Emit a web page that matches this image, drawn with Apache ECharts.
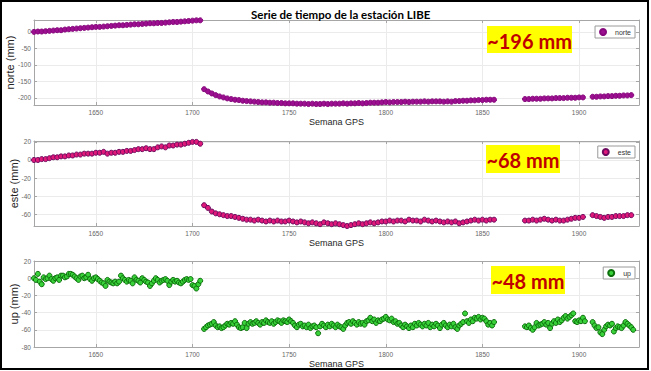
<!DOCTYPE html>
<html>
<head>
<meta charset="utf-8">
<script src="https://cdn.jsdelivr.net/npm/echarts@6/dist/echarts.min.js"></script>
<style>
  html, body { margin: 0; padding: 0; background: #fff; }
  #chart { width: 651px; height: 371px; }
</style>
</head>
<body>
<div id="chart"></div>
<script>
// GPS weeks sampled every 2 weeks (norte, este)
const weeks2 = [
  1618, 1620, 1622, 1624, 1626, 1628, 1630, 1632, 1634, 1636,
  1638, 1640, 1642, 1644, 1646, 1648, 1650, 1652, 1654, 1656,
  1658, 1660, 1662, 1664, 1666, 1668, 1670, 1672, 1674, 1676,
  1678, 1680, 1682, 1684, 1686, 1688, 1690, 1692, 1694, 1696,
  1698, 1700, 1702, 1704,
  1706, 1708, 1710, 1712, 1714, 1716, 1718, 1720, 1722, 1724,
  1726, 1728, 1730, 1732, 1734, 1736, 1738, 1740, 1742, 1744,
  1746, 1748, 1750, 1752, 1754, 1756, 1758, 1760, 1762, 1764,
  1766, 1768, 1770, 1772, 1774, 1776, 1778, 1780, 1782, 1784,
  1786, 1788, 1790, 1792, 1794, 1796, 1798, 1800, 1802, 1804,
  1806, 1808, 1810, 1812, 1814, 1816, 1818, 1820, 1822, 1824,
  1826, 1828, 1830, 1832, 1834, 1836, 1838, 1840, 1842, 1844,
  1846, 1848, 1850, 1852, 1854, 1856,
  1872, 1874, 1876, 1878, 1880, 1882, 1884, 1886, 1888, 1890,
  1892, 1894, 1896, 1898, 1900, 1902,
  1907, 1909, 1911, 1913, 1915, 1917, 1919, 1921, 1923, 1925, 1927,
];

const norte = [
  0, 1, 1, 2, 3, 4, 5, 5, 7, 8,
  9, 10, 11, 12, 13, 14, 15, 15, 16, 17,
  18, 19, 20, 20, 21, 22, 23, 23, 24, 25,
  26, 26, 27, 27, 28, 29, 30, 30, 31, 32,
  33, 34, 35, 35,
  -174, -181, -187, -192, -196, -199, -202, -204, -206, -207,
  -209, -210, -211, -212, -213, -214, -214, -215, -215, -216,
  -216, -217, -217, -217, -218, -218, -218, -219, -218, -219,
  -219, -218, -219, -218, -218, -218, -217, -218, -217, -217,
  -216, -217, -216, -215, -215, -215, -214, -213, -214, -213,
  -213, -213, -212, -213, -212, -212, -212, -211, -212, -211,
  -211, -211, -212, -211, -212, -210, -210, -209, -209, -208,
  -208, -207, -207, -206, -206, -206,
  -204, -204, -203, -203, -203, -202, -202, -202, -201, -201,
  -201, -200, -200, -200, -199, -199,
  -197, -197, -196, -196, -195, -195, -194, -194, -193, -193, -192,
];

const este = [
  0, 0, 1, 1, 2, 3, 3, 4, 4, 5,
  5, 6, 6, 7, 7, 7, 8, 8, 9, 7,
  8, 8, 9, 9, 10, 10, 11, 12, 12, 13,
  12, 12, 14, 15, 14, 16, 16, 17, 17, 18,
  19, 20, 20, 18,
  -50, -53, -57, -59, -60, -61, -62, -62, -63, -64,
  -65, -66, -66, -67, -66, -67, -68, -67, -68, -67,
  -68, -68, -67, -68, -69, -68, -69, -70, -69, -70,
  -71, -69, -70, -71, -70, -71, -72, -73, -72, -71,
  -70, -71, -70, -69, -70, -69, -68, -68, -67, -68,
  -67, -67, -68, -66, -67, -67, -68, -66, -67, -68,
  -67, -68, -69, -68, -69, -68, -70, -69, -68, -67,
  -66, -67, -66, -67, -66, -66,
  -67, -67, -66, -67, -66, -65, -66, -67, -66, -67,
  -67, -66, -65, -64, -64, -63,
  -61, -62, -63, -64, -63, -63, -62, -62, -62, -61, -61,
];

// GPS weeks, weekly (up)
const weeks1 = [
  1618, 1619, 1620, 1621, 1622, 1623, 1624, 1625, 1626, 1627,
  1628, 1629, 1630, 1631, 1632, 1633, 1634, 1635, 1636, 1637,
  1638, 1639, 1640, 1641, 1642, 1643, 1644, 1645, 1646, 1647,
  1648, 1649, 1650, 1651, 1652, 1653, 1654, 1655, 1656, 1657,
  1658, 1659, 1660, 1661, 1662, 1663, 1664, 1665, 1666, 1667,
  1668, 1669, 1670, 1671, 1672, 1673, 1674, 1675, 1676, 1677,
  1678, 1679, 1680, 1681, 1682, 1683, 1684, 1685, 1686, 1687,
  1688, 1689, 1690, 1691, 1692, 1693, 1694, 1695, 1696, 1697,
  1698, 1699, 1700, 1701, 1702, 1703, 1704,
  1706, 1707, 1708, 1709, 1710, 1711, 1712, 1713, 1714, 1715,
  1716, 1717, 1718, 1719, 1720, 1721, 1722, 1723, 1724, 1725,
  1726, 1727, 1728, 1729, 1730, 1731, 1732, 1733, 1734, 1735,
  1736, 1737, 1738, 1739, 1740, 1741, 1742, 1743, 1744, 1745,
  1746, 1747, 1748, 1749, 1750, 1751, 1752, 1753, 1754, 1755,
  1756, 1757, 1758, 1759, 1760, 1761, 1762, 1763, 1764, 1765,
  1766, 1767, 1768, 1769, 1770, 1771, 1772, 1773, 1774, 1775,
  1776, 1777, 1778, 1779, 1780, 1781, 1782, 1783, 1784, 1785,
  1786, 1787, 1788, 1789, 1790, 1791, 1792, 1793, 1794, 1795,
  1796, 1797, 1798, 1799, 1800, 1801, 1802, 1803, 1804, 1805,
  1806, 1807, 1808, 1809, 1810, 1811, 1812, 1813, 1814, 1815,
  1816, 1817, 1818, 1819, 1820, 1821, 1822, 1823, 1824, 1825,
  1826, 1827, 1828, 1829, 1830, 1831, 1832, 1833, 1834, 1835,
  1836, 1837, 1838, 1839, 1840, 1841, 1842, 1843, 1844, 1845,
  1846, 1847, 1848, 1849, 1850, 1851, 1852, 1853, 1854, 1855,
  1856,
  1872, 1873, 1874, 1875, 1876, 1877, 1878, 1879, 1880, 1881,
  1882, 1883, 1884, 1885, 1886, 1887, 1888, 1889, 1890, 1891,
  1892, 1893, 1894, 1895, 1896, 1897, 1898, 1899, 1900, 1901,
  1902, 1903,
  1907, 1908, 1909, 1910, 1911, 1912, 1913, 1914, 1915, 1916,
  1917, 1918, 1919, 1920, 1921, 1922, 1923, 1924, 1925, 1926,
  1927, 1928,
];

const up = [
  0, -2, 5, -4, -7, 1, -1, 0, 3, -1,
  -3, 0, 1, -2, 3, 3, 1, 2, 5, 5,
  4, 2, 0, -2, 2, 3, 0, 1, 4, -1,
  -3, 0, 1, -1, -3, -5, -6, -9, -2, -4,
  -5, -6, -4, -6, -4, 3, 0, -2, -4, -2,
  -3, -6, 1, -2, -3, -5, 0, -2, -4, -5,
  -9, -6, -3, 0, -2, -5, -3, -2, -1, -3,
  -8, -4, -2, -4, -3, -5, -6, -4, -2, -1,
  -2, -1, -8, -9, -12, -7, -3,
  -59, -57, -55, -54, -53, -51, -55, -57, -56, -58,
  -57, -55, -53, -54, -52, -53, -50, -54, -57, -58,
  -57, -52, -58, -53, -51, -53, -52, -50, -52, -54,
  -51, -52, -49, -51, -52, -50, -53, -51, -49, -50,
  -52, -49, -50, -51, -48, -50, -52, -55, -57, -54,
  -53, -56, -55, -57, -54, -58, -56, -55, -57, -64,
  -56, -53, -55, -57, -54, -56, -53, -55, -57, -54,
  -56, -57, -59, -55, -52, -51, -53, -50, -52, -54,
  -51, -53, -52, -54, -50, -49, -46, -50, -48, -52,
  -49, -50, -48, -47, -45, -48, -49, -47, -51, -50,
  -53, -52, -55, -57, -54, -56, -58, -55, -57, -53,
  -55, -52, -54, -56, -53, -55, -52, -57, -54, -56,
  -53, -55, -58, -54, -52, -55, -57, -54, -56, -53,
  -57, -59, -55, -53, -51, -41, -50, -52, -48, -50,
  -46, -47, -45, -48, -46, -47, -50, -54, -52, -55,
  -51,
  -56, -57, -55, -58, -60, -57, -52, -55, -54, -53,
  -51, -54, -52, -58, -53, -50, -52, -48, -51, -49,
  -46, -44, -47, -45, -43, -41, -50, -51, -49, -50,
  -46, -50,
  -51, -55, -58, -57, -63, -65, -60, -56, -54, -55,
  -53, -62, -58, -56, -57, -58, -55, -51, -53, -55,
  -57, -60,
];

const weekRange = [1618, 1931];
const yRanges = [[-222, 36], [-73, 21], [-80, 20]];
const yNames = ['norte (mm)', 'este (mm)', 'up (mm)'];
const yNameGaps = [19, 15, 15];
const annotations = ['~196 mm', '~68 mm', '~48 mm'];

const pairs = (xs, ys) => xs.map((x, i) => [x, ys[i]]);

const font = 'Liberation Sans';
const boxColor = '#a6a6a6';
const plain = (v) => String(v);

const grids = [
  { left: 34, right: 12, top: 20, height: 85, outerBoundsMode: 'none' },
  { left: 34, right: 12, top: 141, height: 85, outerBoundsMode: 'none' },
  { left: 34, right: 12, top: 261, height: 86, outerBoundsMode: 'none' },
];

const xBottom = grids.map((g, i) => ({
  type: 'value',
  gridIndex: i,
  position: 'bottom',
  min: weekRange[0],
  max: weekRange[1],
  name: 'Semana GPS',
  nameLocation: 'middle',
  nameGap: 12,
  nameMoveOverlap: false,
  nameTextStyle: { fontSize: 9, color: '#262626', fontFamily: font },
  axisLine: { onZero: false, lineStyle: { color: boxColor } },
  axisTick: { inside: true, length: 3, lineStyle: { color: boxColor } },
  axisLabel: { fontSize: 6.5, color: '#666', margin: 4, fontFamily: font, showMinLabel: false, showMaxLabel: false, formatter: plain },
  splitLine: { show: true, lineStyle: { color: '#ebebeb' } },
}));

const xTop = grids.map((g, i) => ({
  type: 'value',
  gridIndex: i,
  position: 'top',
  min: weekRange[0],
  max: weekRange[1],
  axisLine: { onZero: false, lineStyle: { color: boxColor } },
  axisTick: { inside: true, length: 3, lineStyle: { color: boxColor } },
  axisLabel: { show: false },
  splitLine: { show: false },
}));

const yLeft = grids.map((g, i) => ({
  type: 'value',
  gridIndex: i,
  position: 'left',
  min: yRanges[i][0],
  max: yRanges[i][1],
  interval: i === 2 ? 20 : undefined,
  name: yNames[i],
  nameLocation: 'middle',
  nameGap: yNameGaps[i],
  nameMoveOverlap: false,
  nameTextStyle: { fontSize: 11, color: '#262626', fontFamily: font },
  axisLine: { show: true, onZero: false, lineStyle: { color: boxColor } },
  axisTick: { show: true, inside: true, length: 3, lineStyle: { color: boxColor } },
  axisLabel: { fontSize: 6.5, color: '#666', margin: 3, fontFamily: font, showMinLabel: i === 2, showMaxLabel: i === 2, formatter: plain },
  splitLine: { show: true, lineStyle: { color: '#ebebeb' } },
}));

const yRight = grids.map((g, i) => ({
  type: 'value',
  gridIndex: i,
  position: 'right',
  min: yRanges[i][0],
  max: yRanges[i][1],
  interval: i === 2 ? 20 : undefined,
  axisLine: { show: true, onZero: false, lineStyle: { color: boxColor } },
  axisTick: { show: true, inside: true, length: 3, lineStyle: { color: boxColor } },
  axisLabel: { show: false },
  splitLine: { show: false },
}));

const seriesStyles = [
  { name: 'norte', xs: weeks2, ys: norte, color: '#9c0f90', border: '#86087c', size: 5 },
  { name: 'este', xs: weeks2, ys: este, color: '#e0187a', border: '#6e0a5e', size: 5 },
  { name: 'up', xs: weeks1, ys: up, color: '#3ad23a', border: '#0b6e0b', size: 5 },
];

const series = seriesStyles.map((s, i) => ({
  name: s.name,
  type: 'scatter',
  xAxisIndex: i,
  yAxisIndex: i,
  data: pairs(s.xs, s.ys),
  symbol: 'circle',
  symbolSize: s.size,
  itemStyle: { color: s.color, borderColor: s.border, borderWidth: 1, opacity: 1 },
  emphasis: { disabled: true },
}));

const legendTops = [26, 146, 267];
const legend = seriesStyles.map((s, i) => ({
  data: [s.name],
  right: 16,
  top: legendTops[i],
  orient: 'horizontal',
  icon: 'circle',
  itemWidth: 14,
  itemHeight: 6,
  itemGap: 0,
  padding: [2, 4, 2, 4],
  backgroundColor: '#fff',
  borderColor: '#9a9a9a',
  borderWidth: 1,
  textStyle: { fontSize: 7, color: '#333', fontFamily: font },
  selectedMode: false,
}));

const boxes = [
  { x: 487, y: 26, width: 85, height: 27 },
  { x: 486, y: 145, width: 74, height: 28 },
  { x: 491, y: 266, width: 74, height: 28 },
];

const graphic = [];
boxes.forEach((b, i) => {
  graphic.push({
    type: 'rect',
    shape: b,
    style: { fill: '#ffff00' },
    z: 50,
  });
  graphic.push({
    type: 'text',
    x: b.x + b.width / 2,
    y: b.y + b.height / 2 + 1,
    style: {
      text: annotations[i],
      fill: '#c00000',
      font: 'bold 20px Lato',
      align: 'center',
      verticalAlign: 'middle',
    },
    z: 51,
  });
});
graphic.push({
  type: 'rect',
  shape: { x: 1, y: 1, width: 647, height: 368 },
  style: { fill: 'none', stroke: '#000', lineWidth: 2 },
  z: 100,
});

const option = {
  backgroundColor: '#fff',
  animation: false,
  title: {
    text: 'Serie de tiempo de la estación LIBE',
    left: 246,
    top: 3,
    textStyle: { fontSize: 11.5, fontWeight: 'bold', color: '#000', fontFamily: 'Lato' },
  },
  grid: grids,
  xAxis: xBottom.concat(xTop),
  yAxis: yLeft.concat(yRight),
  legend,
  series,
  graphic,
};

echarts.init(document.getElementById('chart'), null, { renderer: 'svg' }).setOption(option);
</script>
</body>
</html>
